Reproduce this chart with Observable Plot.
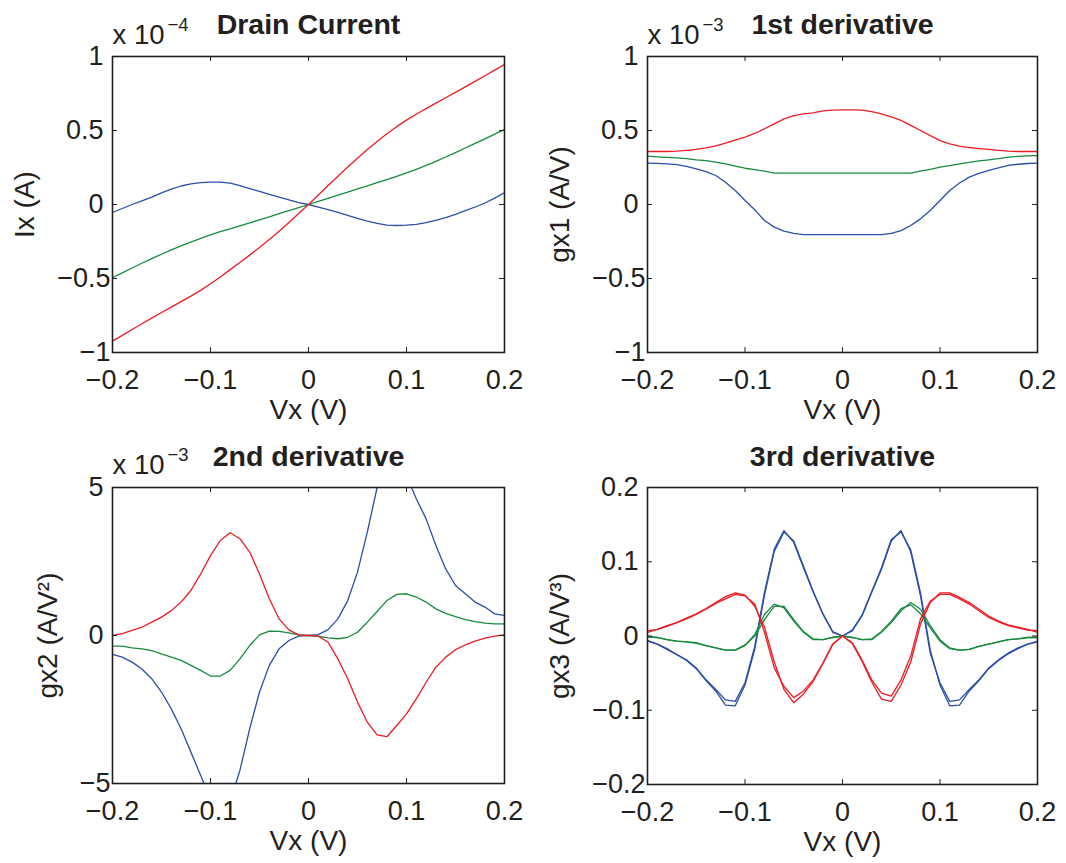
<!DOCTYPE html>
<html>
<head>
<meta charset="utf-8">
<script src="https://cdn.jsdelivr.net/npm/d3@7"></script>
<script src="https://cdn.jsdelivr.net/npm/@observablehq/plot@0.6"></script>
<style>
  body { margin: 0; background: #ffffff; }
  #chart { position: relative; width: 1066px; height: 863px; overflow: hidden; background: #ffffff; }
  #chart svg { position: absolute; }
</style>
</head>
<body>
<div id="chart"></div>
<script>
// ---- shared x grid (Vx, volts) ----
const vx = [-0.20,-0.19,-0.18,-0.17,-0.16,-0.15,-0.14,-0.13,-0.12,-0.11,-0.10,-0.09,-0.08,-0.07,-0.06,-0.05,-0.04,-0.03,-0.02,-0.01,0,
            0.01,0.02,0.03,0.04,0.05,0.06,0.07,0.08,0.09,0.10,0.11,0.12,0.13,0.14,0.15,0.16,0.17,0.18,0.19,0.20];

// ---- tick values ----
const xTicks = [-0.2, -0.1, 0, 0.1, 0.2];
const yTicks1 = [-1, -0.5, 0, 0.5, 1];
const yTicks2 = [-1, -0.5, 0, 0.5, 1];
const yTicks3 = [-5, 0, 5];
const yTicks4 = [-0.2, -0.1, 0, 0.1, 0.2];

// ---- Drain current Ix (x 1e-4 A) ----
const ixRed   = [-0.923,-0.884,-0.845,-0.806,-0.768,-0.730,-0.693,-0.656,-0.619,-0.580,-0.536,-0.490,-0.440,-0.392,-0.342,-0.290,-0.236,-0.180,-0.121,-0.061,0,
                 0.064,0.128,0.191,0.253,0.313,0.371,0.426,0.478,0.526,0.570,0.610,0.648,0.685,0.721,0.758,0.795,0.832,0.870,0.908,0.946];
const ixGreen = [-0.495,-0.462,-0.429,-0.397,-0.366,-0.336,-0.307,-0.280,-0.254,-0.229,-0.205,-0.184,-0.164,-0.144,-0.124,-0.104,-0.083,-0.062,-0.042,-0.021,0,
                 0.021,0.042,0.063,0.084,0.105,0.126,0.147,0.168,0.190,0.213,0.238,0.264,0.292,0.321,0.351,0.382,0.413,0.444,0.476,0.507];
const ixBlue  = [-0.054,-0.027,0.000,0.025,0.050,0.078,0.104,0.125,0.140,0.148,0.151,0.151,0.145,0.128,0.108,0.088,0.069,0.050,0.031,0.013,0,
                 -0.017,-0.035,-0.054,-0.074,-0.093,-0.112,-0.128,-0.139,-0.142,-0.140,-0.134,-0.122,-0.107,-0.088,-0.066,-0.042,-0.017,0.010,0.043,0.079];

// ---- 1st derivative gx1 (x 1e-3 A/V) ----
const g1Red   = [0.358,0.358,0.358,0.360,0.366,0.372,0.382,0.396,0.415,0.435,0.455,0.480,0.512,0.545,0.578,0.601,0.612,0.619,0.632,0.638,0.640,
                 0.640,0.638,0.628,0.613,0.592,0.568,0.535,0.500,0.465,0.432,0.410,0.394,0.385,0.378,0.372,0.366,0.360,0.358,0.358,0.358];
const g1Green = [0.327,0.322,0.318,0.315,0.310,0.302,0.297,0.287,0.275,0.260,0.245,0.235,0.225,0.212,0.212,0.212,0.212,0.212,0.212,0.212,0.212,
                 0.212,0.212,0.212,0.212,0.212,0.212,0.212,0.225,0.237,0.252,0.263,0.275,0.285,0.295,0.302,0.310,0.320,0.325,0.328,0.331];
const g1Blue  = [0.280,0.278,0.274,0.270,0.258,0.241,0.222,0.196,0.150,0.095,0.027,-0.036,-0.108,-0.153,-0.180,-0.195,-0.203,-0.203,-0.203,-0.203,-0.203,
                 -0.203,-0.203,-0.203,-0.203,-0.195,-0.176,-0.142,-0.097,-0.040,0.027,0.095,0.145,0.185,0.210,0.230,0.248,0.264,0.272,0.277,0.280];

// ---- 2nd derivative gx2 (x 1e-3 A/V^2) ----
const g2Red   = [0,0.06,0.17,0.28,0.45,0.62,0.84,1.13,1.52,2.08,2.70,3.21,3.47,3.27,2.82,2.08,1.24,0.56,0.19,0.02,0,
                 -0.02,-0.23,-0.79,-1.46,-2.25,-2.93,-3.36,-3.42,-3.04,-2.65,-2.14,-1.58,-1.07,-0.73,-0.48,-0.32,-0.19,-0.09,-0.02,0.02];
const g2Green = [-0.36,-0.36,-0.42,-0.45,-0.51,-0.62,-0.73,-0.84,-1.01,-1.18,-1.37,-1.37,-1.18,-0.79,-0.34,0.02,0.15,0.14,0.09,0.02,0,
                 -0.03,-0.08,-0.11,-0.06,0.11,0.45,0.81,1.18,1.39,1.41,1.30,1.13,0.90,0.75,0.64,0.54,0.47,0.42,0.39,0.39];
const g2Blue  = [-0.64,-0.73,-0.90,-1.13,-1.46,-1.91,-2.48,-3.15,-3.94,-4.73,-5.50,-6.00,-5.60,-4.56,-3.15,-1.91,-1.01,-0.45,-0.17,-0.02,0,
                 0.03,0.20,0.56,1.18,2.14,3.49,5.00,6.00,6.20,5.40,4.62,3.94,3.04,2.25,1.69,1.41,1.13,0.96,0.73,0.68];

// ---- 3rd derivative gx3 (A/V^3), two traces per colour ----
const g3Red    = [0.007,0.009,0.014,0.018,0.023,0.029,0.036,0.044,0.050,0.056,0.054,0.043,0.005,-0.043,-0.068,-0.083,-0.074,-0.059,-0.036,-0.011,0,
                  -0.009,-0.032,-0.059,-0.077,-0.081,-0.059,-0.027,0.023,0.047,0.056,0.056,0.050,0.043,0.034,0.025,0.019,0.014,0.011,0.008,0.007];
const g3RedB   = [0.005,0.009,0.013,0.018,0.024,0.030,0.037,0.045,0.053,0.058,0.055,0.040,0.012,-0.035,-0.072,-0.090,-0.078,-0.061,-0.037,-0.011,0,
                  -0.010,-0.034,-0.062,-0.085,-0.088,-0.066,-0.035,0.016,0.045,0.058,0.058,0.052,0.045,0.036,0.027,0.020,0.015,0.012,0.009,0.005];
const g3Green  = [-0.001,-0.002,-0.005,-0.007,-0.008,-0.009,-0.013,-0.016,-0.019,-0.019,-0.013,0.002,0.029,0.043,0.038,0.020,0.005,-0.005,-0.005,-0.002,0,
                  -0.002,-0.005,-0.005,0.005,0.018,0.034,0.045,0.036,0.014,-0.005,-0.016,-0.019,-0.018,-0.014,-0.011,-0.008,-0.005,-0.004,-0.002,-0.002];
const g3GreenB = [-0.001,-0.002,-0.005,-0.007,-0.008,-0.010,-0.013,-0.016,-0.019,-0.019,-0.012,0.000,0.022,0.040,0.040,0.022,0.006,-0.004,-0.005,-0.002,0,
                  -0.002,-0.005,-0.004,0.006,0.020,0.037,0.042,0.030,0.011,-0.007,-0.017,-0.019,-0.018,-0.014,-0.011,-0.008,-0.005,-0.004,-0.002,-0.002];
const g3Blue   = [-0.007,-0.011,-0.018,-0.025,-0.032,-0.043,-0.059,-0.072,-0.086,-0.088,-0.063,-0.014,0.059,0.117,0.142,0.126,0.092,0.059,0.029,0.005,0,
                  0.007,0.027,0.059,0.090,0.128,0.142,0.113,0.054,-0.023,-0.063,-0.088,-0.086,-0.072,-0.059,-0.043,-0.032,-0.023,-0.016,-0.011,-0.008];
const g3BlueB  = [-0.006,-0.011,-0.017,-0.025,-0.033,-0.044,-0.060,-0.074,-0.093,-0.094,-0.066,-0.018,0.055,0.114,0.140,0.128,0.094,0.060,0.030,0.006,0,
                  0.008,0.028,0.060,0.092,0.130,0.140,0.116,0.058,-0.019,-0.066,-0.094,-0.093,-0.074,-0.060,-0.044,-0.033,-0.024,-0.017,-0.011,-0.007];

// ---- styling ----
const RED = "#ec1c24", GREEN = "#178a3e", BLUE = "#2b4ea6", INK = "#231f20";
const FONT = "'Liberation Sans', Arial, Helvetica, sans-serif";
const fmt = d => (d < 0 ? "\u2212" : "") + String(Math.abs(d));

const panels = [
  {left: 0,   top: 0,   width: 533, height: 430, mL: 112, mR: 29, mT: 56, mB: 78,
   yDomain: [-1, 1], yTicks: yTicks1, title: "Drain Current", exp: "\u22124", titleDy: -23, expDy: -13, supDy: -26,
   ylabel: "Ix (A)", ylabelDx: -79,
   series: [[ixBlue, BLUE], [ixGreen, GREEN], [ixRed, RED]]},
  {left: 533, top: 0,   width: 533, height: 430, mL: 114, mR: 29, mT: 56, mB: 78,
   yDomain: [-1, 1], yTicks: yTicks2, title: "1st derivative", exp: "\u22123", titleDy: -23, expDy: -13, supDy: -26,
   ylabel: "gx1 (A/V)", ylabelDx: -79,
   series: [[g1Blue, BLUE], [g1Green, GREEN], [g1Red, RED]]},
  {left: 0,   top: 430, width: 533, height: 433, mL: 112, mR: 29, mT: 57, mB: 80,
   yDomain: [-5, 5], yTicks: yTicks3, title: "2nd derivative", exp: "\u22123", titleDy: -22, expDy: -14, supDy: -27,
   ylabel: "gx2 (A/V\u00B2)", ylabelDx: -56,
   series: [[g2Blue, BLUE], [g2Green, GREEN], [g2Red, RED]]},
  {left: 533, top: 430, width: 533, height: 433, mL: 114, mR: 29, mT: 57, mB: 79,
   yDomain: [-0.2, 0.2], yTicks: yTicks4, title: "3rd derivative", exp: null, titleDy: -22, expDy: -14, supDy: -27,
   ylabel: "gx3 (A/V\u00B3)", ylabelDx: -79,
   series: [[g3BlueB, BLUE], [g3Blue, BLUE], [g3GreenB, GREEN], [g3Green, GREEN], [g3RedB, RED], [g3Red, RED]]}
];

const chart = document.getElementById("chart");

for (const p of panels) {
  const fw = p.width - p.mL - p.mR;
  const fh = p.height - p.mT - p.mB;
  const marks = [];
  for (const [vals, color] of p.series) {
    marks.push(Plot.line(vx.map((x, i) => [x, vals[i]]), {stroke: color, strokeWidth: 1.3, clip: true}));
  }
  marks.push(
    // inward ticks on all four sides
    Plot.tickX(xTicks, {x: d => d, insetTop: fh - 5, stroke: INK, strokeWidth: 1}),
    Plot.tickX(xTicks, {x: d => d, insetBottom: fh - 5, stroke: INK, strokeWidth: 1}),
    Plot.tickY(p.yTicks, {y: d => d, insetRight: fw - 5, stroke: INK, strokeWidth: 1}),
    Plot.tickY(p.yTicks, {y: d => d, insetLeft: fw - 5, stroke: INK, strokeWidth: 1}),
    Plot.frame({stroke: INK, strokeWidth: 1.6}),
    Plot.axisX(xTicks, {anchor: "bottom", tickSize: 0, tickPadding: 17, fontSize: 27, tickFormat: fmt, label: null, fill: INK}),
    Plot.axisY(p.yTicks.filter(d => d >= 0), {anchor: "left", tickSize: 0, tickPadding: 9, fontSize: 27, tickFormat: fmt, label: null, fill: INK}),
    Plot.axisY(p.yTicks.filter(d => d < 0), {anchor: "left", tickSize: 0, tickPadding: 2, fontSize: 27, tickFormat: fmt, label: null, fill: INK}),
    Plot.text([p.title], {frameAnchor: "top", lineAnchor: "bottom", dy: p.titleDy, fontSize: 28.5, fontWeight: "bold", fill: INK}),
    Plot.text([p.ylabel], {frameAnchor: "left", rotate: -90, textAnchor: "middle", lineAnchor: "bottom", dx: p.ylabelDx, fontSize: 28, fill: INK}),
    Plot.text(["Vx (V)"], {frameAnchor: "bottom", lineAnchor: "bottom", dy: 66, fontSize: 28, fill: INK})
  );
  if (p.exp) {
    marks.push(
      Plot.text(["x 10"], {frameAnchor: "top-left", textAnchor: "start", lineAnchor: "bottom", dx: 0, dy: p.expDy, fontSize: 27.5, fill: INK}),
      Plot.text([p.exp], {frameAnchor: "top-left", textAnchor: "start", lineAnchor: "bottom", dx: 55, dy: p.supDy, fontSize: 18.5, fill: INK})
    );
  }
  const svg = Plot.plot({
    width: p.width, height: p.height,
    marginLeft: p.mL, marginRight: p.mR, marginTop: p.mT, marginBottom: p.mB,
    x: {domain: [-0.2, 0.2]},
    y: {domain: p.yDomain},
    style: {fontFamily: FONT, color: INK, background: "transparent", overflow: "visible"},
    marks
  });
  svg.style.left = p.left + "px";
  svg.style.top = p.top + "px";
  chart.appendChild(svg);
}
</script>
</body>
</html>
